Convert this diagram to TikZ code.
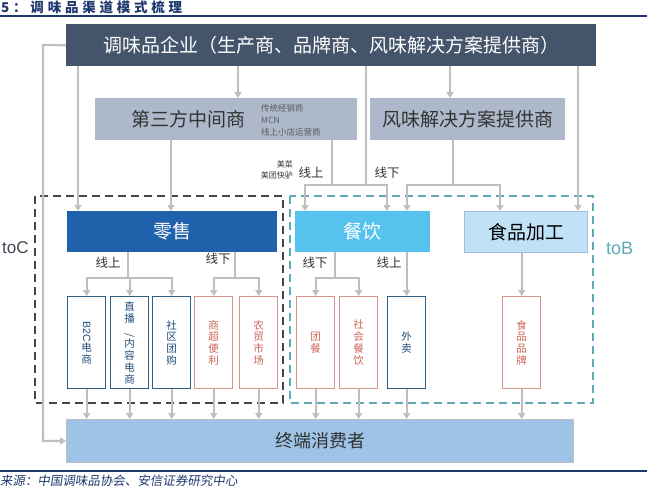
\documentclass[tikz,border=0pt]{standalone}
\usepackage{fontspec}
\usepackage{graphicx}
\setmainfont{Noto Sans CJK SC}
\newfontfamily\latinfont{Liberation Sans}
\newfontfamily\titlefont{Noto Sans CJK SC}[LetterSpace=28]
\newfontfamily\srcfont{Noto Sans CJK SC}[FakeSlant=0.15]
\usetikzlibrary{arrows.meta}

\definecolor{corpfill}{RGB}{68,84,106}
\definecolor{midfill}{RGB}{173,185,202}
\definecolor{retailfill}{RGB}{31,97,170}
\definecolor{cateringfill}{RGB}{86,194,238}
\definecolor{foodfill}{RGB}{192,226,247}
\definecolor{foodborder}{RGB}{160,190,215}
\definecolor{consumerfill}{RGB}{157,195,230}
\definecolor{linegray}{RGB}{191,191,191}
\definecolor{tocdash}{RGB}{64,72,82}
\definecolor{tobdash}{RGB}{95,170,182}
\definecolor{chanblue}{RGB}{46,94,130}
\definecolor{chanbluetext}{RGB}{31,78,121}
\definecolor{chanred}{RGB}{212,150,140}
\definecolor{chanredtext}{RGB}{205,100,85}
\definecolor{labeltext}{RGB}{51,51,51}
\definecolor{reportblue}{RGB}{31,56,110}

\begin{document}
\begin{tikzpicture}[x=1pt, y=-1pt, >={Triangle[width=7pt,length=6pt]},
    conn/.style={draw=linegray, line width=2.2pt, ->},
    wire/.style={draw=linegray, line width=2.2pt},
    bigbox/.style={anchor=north west, inner sep=0pt, font=\fontsize{19}{19}\selectfont},
    chan/.style={anchor=north west, draw, line width=1.4pt, fill=white, minimum width=38pt,
        minimum height=92pt, inner sep=0pt, align=center, font=\fontsize{10.5}{11.8}\selectfont},
    bluechan/.style={chan, draw=chanblue, text=chanbluetext},
    redchan/.style={chan, draw=chanred, text=chanredtext},
    tag/.style={font=\fontsize{12.5}{12.5}\selectfont, text=labeltext, inner sep=0pt},
    zone/.style={line width=1.3pt, dash pattern=on 8pt off 5pt}]

    \useasboundingbox (0,0) rectangle (647,489);

    % title and rules
    \node[anchor=west, inner sep=0pt, text=reportblue, font=\titlefont\bfseries\fontsize{13.5}{13.5}\selectfont] (title) at (1,7) {5：调味品渠道模式梳理};
    \draw[reportblue, line width=1.5pt] (0,16) -- (647,16);
    \draw[reportblue, line width=1.2pt] (0,471) -- (647,471);
    \node[anchor=west, inner sep=0pt, text=reportblue, font=\srcfont\fontsize{12.5}{12.5}\selectfont] (source) at (0,481) {来源：中国调味品协会、安信证券研究中心};

    % toC / toB zones
    \draw[zone, tocdash] (35,196) rectangle (283,403);
    \draw[zone, tobdash] (290,196) rectangle (593,403);
    \node[anchor=west, inner sep=0pt, text=tocdash, font=\latinfont\fontsize{17}{17}\selectfont] (toC) at (2,248) {toC};
    \node[anchor=west, inner sep=0pt, text=tobdash, font=\latinfont\fontsize{18}{18}\selectfont] (toB) at (606,248) {toB};

    % upper boxes
    \node[bigbox, fill=corpfill, text=white, minimum width=530pt, minimum height=42pt] (corp) at (66,24) {调味品企业（生产商、品牌商、风味解决方案提供商）};
    \node[bigbox, fill=midfill, minimum width=262pt, minimum height=42pt] (mid) at (95,98) {};
    \node[tag, font=\fontsize{19}{19}\selectfont] (midtext) at (188,119) {第三方中间商};
    \node[anchor=west, inner sep=0pt, align=left, text=labeltext!80, font=\fontsize{8.5}{12}\selectfont] (midlist) at (261,120) {传统经销商\\MCN\\线上小店运营商};
    \node[bigbox, fill=midfill, text=labeltext, minimum width=195pt, minimum height=42pt] (flavor) at (370,98) {风味解决方案提供商};

    % channels
    \node[bigbox, fill=retailfill, text=white, minimum width=210pt, minimum height=41pt] (retail) at (67,211) {零售};
    \node[bigbox, fill=cateringfill, text=white, minimum width=135pt, minimum height=41pt] (catering) at (295,211) {餐饮};
    \node[bigbox, fill=foodfill, draw=foodborder, line width=1pt, text=black, minimum width=123pt, minimum height=41pt] (food) at (464,211) {食品加工};

    % sub channels
    \node[bluechan] (b2c) at (67,296) {\rotatebox{-90}{\latinfont B2C}\\电\\商};
    \node[bluechan] (live) at (110,296) {直\\播\\\rotatebox{-90}{/}\\内\\容\\电\\商};
    \node[bluechan] (group) at (152,296) {社\\区\\团\\购};
    \node[redchan] (super) at (194,296) {商\\超\\便\\利};
    \node[redchan] (market) at (239,296) {农\\贸\\市\\场};
    \node[redchan] (canteen) at (296,296) {团\\餐};
    \node[redchan] (social) at (339,296) {社\\会\\餐\\饮};
    \node[bluechan] (takeout) at (387,296) {外\\卖};
    \node[redchan] (brand) at (502,296) {食\\品\\品\\牌};

    \node[bigbox, fill=consumerfill, draw=linegray, line width=1pt, text=labeltext, font=\fontsize{18}{18}\selectfont, minimum width=507pt, minimum height=43pt] (consumer) at (66,419) {终端消费者};

    % junctions
    \coordinate (loop) at (43,45);
    \coordinate (rA) at (78,211);
    \coordinate (rB) at (171,211);
    \coordinate (mA) at (238,98);
    \coordinate (fA) at (450,98);
    \coordinate (jMid) at (332,185);
    \coordinate (jCorp) at (366,185);
    \coordinate (jFlavor) at (453,185);
    \coordinate (cA) at (305,211);
    \coordinate (cB) at (387,211);
    \coordinate (cC) at (407,211);
    \coordinate (dA) at (500,211);
    \coordinate (dB) at (578,211);
    \coordinate (rOn) at (128,278);
    \coordinate (rOff) at (235,278);
    \coordinate (cOff) at (335,278);

    % connectors from the enterprise
    \draw[conn] (corp.west) -- (loop) |- (consumer.west);
    \draw[conn] (corp.south -| rA) -- (rA);
    \draw[conn] (corp.south -| mA) -- (mA);
    \draw[conn] (corp.south -| fA) -- (fA);
    \draw[wire] (corp.south -| jCorp) -- (jCorp);
    \draw[conn] (corp.south -| dB) -- (dB);

    % connectors from the intermediaries
    \draw[conn] (mid.south -| rB) -- (rB);
    \draw[wire] (mid.south -| jMid) -- (jMid);
    \draw[conn] (jMid) -| (cA);
    \draw[conn] (jMid) -| (cB);
    \draw[wire] (flavor.south -| jFlavor) -- (jFlavor);
    \draw[conn] (jFlavor) -| (cC);
    \draw[conn] (jFlavor) -| (dA);
    \node[tag] (onMid) at (311,173) {线上};
    \node[anchor=east, inner sep=0pt, align=right, text=labeltext, font=\fontsize{8}{11}\selectfont] (meicai) at (293,170) {美菜\\美团快驴};
    \node[tag] (offMid) at (387,173) {线下};

    % retail branches
    \draw[wire] (retail.south -| rOn) -- (rOn);
    \draw[conn] (rOn) -| (b2c.north);
    \draw[conn] (rOn) -| (live.north);
    \draw[conn] (rOn) -| (group.north);
    \draw[wire] (retail.south -| rOff) -- (rOff);
    \draw[conn] (rOff) -| (super.north);
    \draw[conn] (rOff) -| (market.north);
    \node[tag] (onRetail) at (108,263) {线上};
    \node[tag] (offRetail) at (218,259) {线下};

    % catering and food branches
    \draw[wire] (catering.south -| cOff) -- (cOff);
    \draw[conn] (cOff) -| (canteen.north);
    \draw[conn] (cOff) -| (social.north);
    \draw[conn] (catering.south -| takeout.north) -- (takeout.north);
    \draw[conn] (food.south -| brand.north) -- (brand.north);
    \node[tag] (offCatering) at (315,263) {线下};
    \node[tag] (onCatering) at (389,263) {线上};

    % down to the consumer
    \foreach \sub in {b2c, live, group, super, market, canteen, social, takeout, brand}
        \draw[conn] (\sub.south) -- (\sub.south |- consumer.north);
\end{tikzpicture}
\end{document}
